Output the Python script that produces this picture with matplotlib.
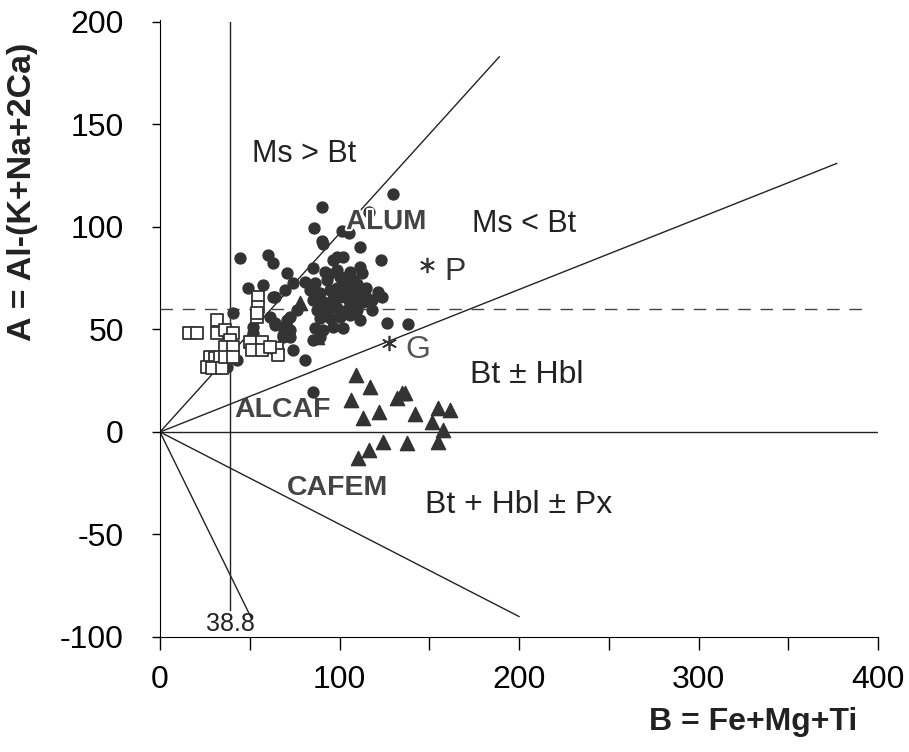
import numpy as np
import matplotlib
matplotlib.use("Agg")
import matplotlib.pyplot as plt
import matplotlib.patheffects as pe

plt.rcParams['font.family'] = ['Liberation Sans', 'DejaVu Sans']
plt.rcParams['axes.unicode_minus'] = False

# ALUM samples (filled circles)
alum_b = [90.3, 129.8, 116.4, 85.8, 101.4, 105.3, 90.3, 90.8, 111.4, 44.6,
          60.2, 63.0, 123.1, 85.2, 70.8, 98.6, 101.9, 96.4, 91.9, 98.6,
          105.8, 111.4, 80.8, 86.4, 93.0, 100.3, 104.2, 107.5, 112.5, 83.6,
          89.1, 94.7, 98.6, 101.9, 105.8, 111.4, 114.2, 85.2, 90.8, 96.4,
          100.3, 104.2, 108.6, 113.1, 118.1, 87.5, 93.0, 98.6, 104.2, 109.7,
          89.1, 94.7, 100.3, 105.8, 111.4, 86.4, 90.8, 96.4, 101.9, 85.2,
          89.1, 123.7, 126.5, 138.2, 76.3, 72.4, 70.8, 68.5, 64.1, 64.1,
          74.1, 80.8, 65.7, 40.7, 42.9, 40.1, 37.3, 51.8, 51.8, 49.0,
          57.4, 63.0, 74.1, 69.6, 61.3, 64.1, 68.5, 70.8, 72.4, 68.5,
          72.4, 85.2, 121.4, 118.1, 102.0, 107.0, 96.0, 110.0, 115.0, 99.0,
          106.0, 94.0]
alum_a = [109.8, 116.1, 107.3, 99.5, 98.0, 97.1, 93.2, 91.7, 90.2, 84.9,
          86.3, 82.4, 83.9, 80.0, 77.6, 85.4, 85.4, 83.9, 78.0, 79.0,
          78.0, 80.5, 73.2, 72.7, 74.1, 75.6, 75.6, 74.1, 77.6, 69.3,
          67.8, 69.3, 70.2, 70.7, 69.3, 68.3, 66.8, 64.4, 63.4, 65.4,
          65.9, 65.4, 64.4, 63.4, 59.5, 59.5, 58.5, 60.5, 59.5, 59.5,
          55.6, 55.6, 56.1, 57.1, 54.6, 50.7, 49.8, 51.2, 50.7, 44.9,
          46.3, 65.9, 53.2, 52.7, 59.5, 56.1, 51.2, 47.3, 65.9, 52.2,
          40.0, 35.1, 40.0, 58.0, 35.1, 38.5, 31.7, 51.2, 48.3, 70.2,
          71.7, 65.9, 72.7, 69.3, 56.1, 53.2, 51.2, 54.6, 49.8, 46.3,
          46.3, 19.5, 68.3, 64.4, 72.5, 71.0, 62.0, 72.0, 70.0, 67.0,
          62.5, 77.0]

# open squares
sq_b = [16.2, 20.6, 31.8, 31.8, 36.2, 40.7, 27.9, 30.6, 33.4, 26.2,
        29.0, 34.5, 37.3, 39.0, 54.6, 54.6, 54.0, 50.1, 56.8, 51.3,
        56.8, 65.2, 65.7, 61.3, 36.2, 40.7, 36.2, 40.7, 54.0]
sq_a = [48.3, 48.3, 54.6, 48.3, 49.8, 48.3, 36.6, 36.1, 36.6, 31.7,
        31.2, 31.2, 40.0, 44.9, 65.9, 61.0, 56.1, 43.9, 43.9, 40.0,
        40.0, 41.0, 37.6, 41.5, 41.5, 41.5, 36.6, 36.6, 58.0]

# filled triangles
tri_b = [109.2, 117.0, 106.4, 113.1, 122.0, 132.0, 134.8, 136.5, 142.1, 154.9,
         161.6, 151.5, 157.7, 154.9, 137.6, 124.2, 116.4, 110.3, 78.0, 87.5]
tri_a = [27.8, 22.0, 15.6, 6.8, 9.8, 16.6, 19.0, 19.0, 8.8, 11.7,
         10.7, 4.9, 1.0, -4.9, -5.4, -4.9, -8.8, -12.7, 62.9, 46.3]

# reference points
star_b = [148.7, 127.6]
star_a = [81.5, 43.4]

# field boundaries from origin
ray_end_b = [189, 377, 400, 200, 51]
ray_end_a = [183, 131, 0, -90, -91]

fig = plt.figure(figsize=(9.09, 7.52), dpi=100)
ax = fig.add_axes([160/909, 1-637/752, 718/909, 615/752])

for xb, ya in zip(ray_end_b, ray_end_a):
    ax.plot([0, xb], [0, ya], color='#222222', lw=1.0, zorder=1)
ax.plot([38.8, 38.8], [-87, 201], color='#222222', lw=1.0, zorder=1)
ax.plot([0, 395], [60, 60], color='#444444', lw=1.0, dashes=(9, 7), zorder=1)

ax.scatter(alum_b, alum_a, s=62, marker='o', color='#333333', edgecolors='#333333', zorder=3)
ax.scatter(sq_b, sq_a, s=70, marker='s', facecolors='white', edgecolors='#333333', linewidths=1.3, zorder=4)
ax.scatter(tri_b, tri_a, s=105, marker='^', color='#333333', zorder=3)

ax.plot(star_b, star_a, ls='none', marker=(6, 2, 0), ms=11, mew=1.2, color='#333333', zorder=5)
ax.text(164.3, 78, 'P', fontsize=23, ha='center', va='center', color='#333333')
ax.text(143.7, 40, 'G', fontsize=23, ha='center', va='center', color='#555555')

halo = [pe.withStroke(linewidth=3, foreground='white')]
ax.text(80, 135.5, 'Ms > Bt', fontsize=22, ha='center', va='center', color='#222222')
ax.text(202.7, 101.5, 'Ms < Bt', fontsize=22, ha='center', va='center', color='#222222')
ax.text(126, 102.4, 'ALUM', fontsize=20, fontweight='bold', ha='center', va='center',
        color='#444444', path_effects=halo, zorder=6)
ax.text(204.5, 27.8, 'Bt \u00b1 Hbl', fontsize=23, ha='center', va='center', color='#222222')
ax.text(68, 10.7, 'ALCAF', fontsize=20.5, fontweight='bold', ha='center', va='center', color='#444444')
ax.text(99, -27.3, 'CAFEM', fontsize=20.5, fontweight='bold', ha='center', va='center', color='#444444')
ax.text(199.8, -35.6, 'Bt + Hbl \u00b1 Px', fontsize=23, ha='center', va='center', color='#222222')
ax.text(39, -93.7, '38.8', fontsize=18, ha='center', va='center', color='#222222')

ax.set_xlim(0, 400)
ax.set_ylim(-100, 200)
ax.spines['top'].set_visible(False)
ax.spines['right'].set_visible(False)
ax.spines['left'].set_bounds(-100, 201)
ax.set_xticks([0, 100, 200, 300, 400])
ax.set_xticks([50, 150, 250, 350], minor=True)
ax.set_yticks([-100, -50, 0, 50, 100, 150, 200])
ax.tick_params(axis='x', which='both', direction='out', length=9, width=1, pad=11, labelsize=23)
ax.tick_params(axis='y', direction='out', length=6, width=1, pad=20, labelsize=23)

fig.text(0.025, 0.745, 'A = Al-(K+Na+2Ca)', rotation=90, fontsize=24.5, fontweight='bold',
         ha='center', va='center', color='#222222')
fig.text(0.829, 0.040, 'B = Fe+Mg+Ti', fontsize=23, fontweight='bold',
         ha='center', va='center', color='#222222')

fig.savefig('out.png', dpi=100)
